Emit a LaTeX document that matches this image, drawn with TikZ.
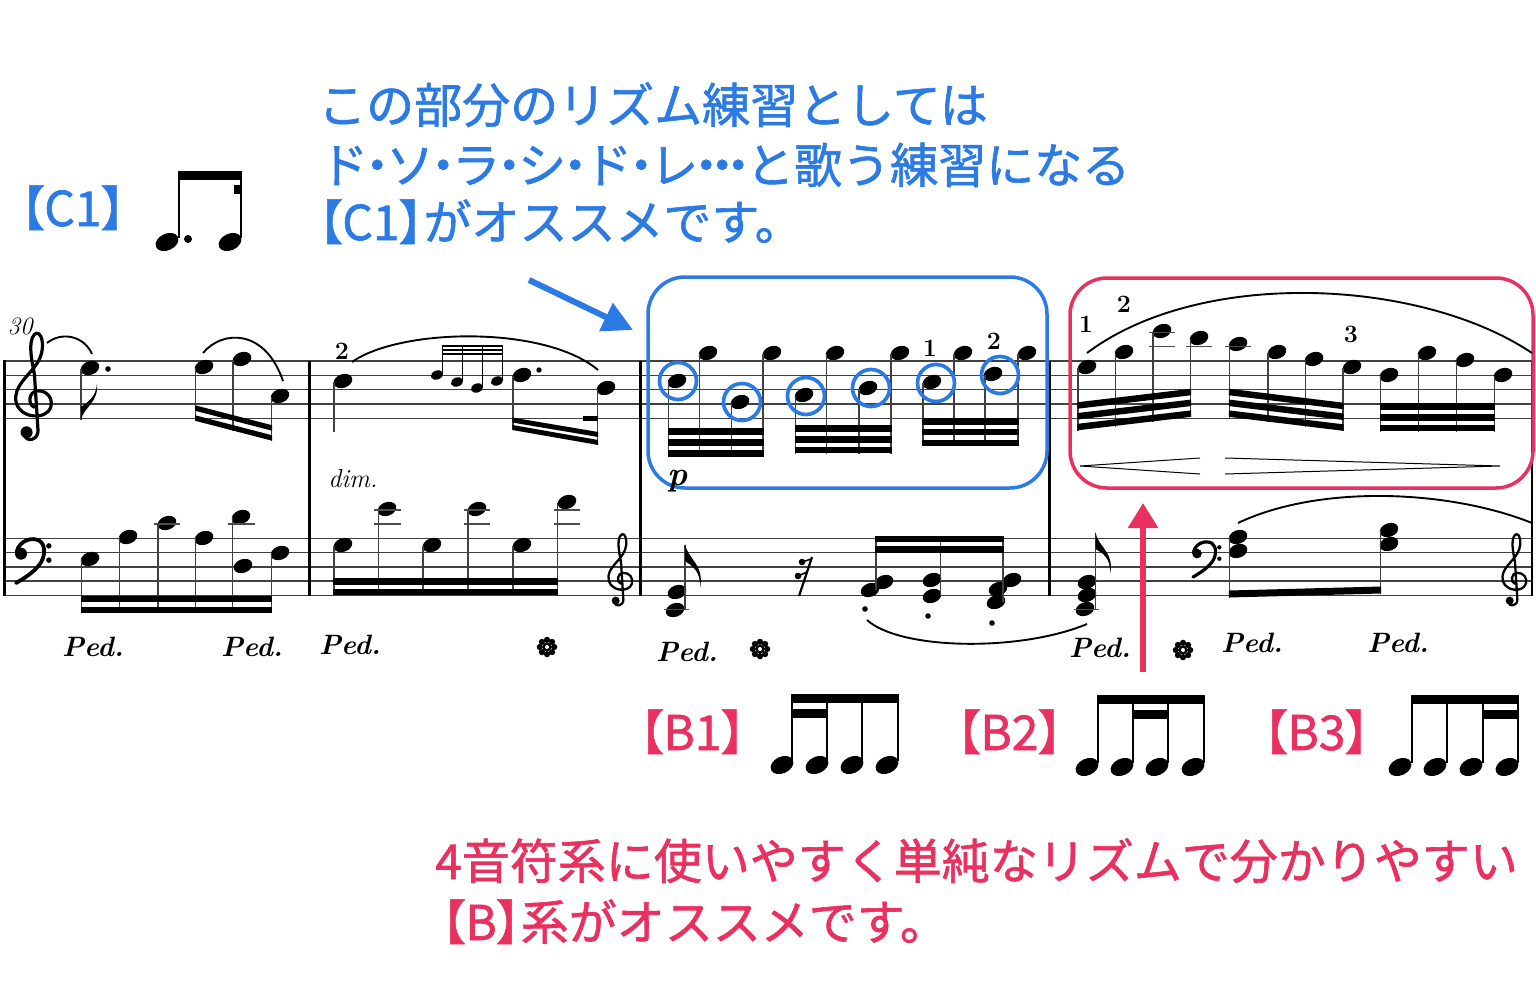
\documentclass[tikz,border=0pt]{standalone}
\usepackage{fontspec}
\newfontfamily\jp{Noto Sans CJK JP}[FakeBold=1.3]
\newfontfamily\jpp{Noto Sans CJK JP}[RawFeature=+palt,FakeBold=1.3]
\usetikzlibrary{arrows.meta}
\definecolor{cblue}{RGB}{44,123,229}
\definecolor{cred}{RGB}{233,49,96}
\newcommand\nhead[2]{\fill[rotate around={20:(#1,#2)}] (#1,#2) ellipse [x radius=9.6, y radius=6.8];}
\newcommand\ghead[2]{\fill[rotate around={20:(#1,#2)}] (#1,#2) ellipse [x radius=6.3, y radius=4.5];}
\newcommand\bhead[2]{\fill[rotate around={25:(#1,#2)}] (#1,#2) ellipse [x radius=12, y radius=8.3];}
\newcommand\mstem[3]{\draw[stemline] (#1,#2) -- (#1,#3);}
\newcommand\fstem[3]{\draw[figstem] (#1,#2) -- (#1,#3);}
\newcommand\mbeam[5]{\fill (#1,{#2-#5/2}) -- (#3,{#4-#5/2}) -- (#3,{#4+#5/2}) -- (#1,{#2+#5/2}) -- cycle;}
\newcommand\mledger[3]{\draw[ledger] (#1,#3) -- (#2,#3);}
\newcommand\jdot{\makebox[18pt][c]{・}}
\newcommand\jell{\makebox[16pt][c]{・}\makebox[16pt][c]{・}\makebox[16pt][c]{・}}
\tikzset{
  pics/gclef/.style={code={
    \begin{scope}[x=14.3pt,y=14.3pt]
      \draw[line width=#1, line cap=round, line join=round]
        (0.1,-0.3) .. controls (-0.4,-0.1) and (-0.3,0.8) .. (0.3,0.85)
        .. controls (1.0,0.9) and (1.4,0.3) .. (1.25,-0.25)
        .. controls (1.1,-0.8) and (0.5,-0.95) .. (0.0,-0.9)
        .. controls (-0.8,-0.8) and (-1.3,-0.2) .. (-1.2,0.5)
        .. controls (-1.1,1.4) and (-0.2,2.0) .. (0.3,2.8)
        .. controls (0.7,3.4) and (0.75,4.2) .. (0.55,4.65)
        .. controls (0.4,5.0) and (0.1,4.95) .. (-0.05,4.55)
        .. controls (-0.3,3.9) and (-0.05,2.8) .. (0.1,2.0)
        -- (0.35,-1.9)
        .. controls (0.4,-2.6) and (-0.5,-2.8) .. (-0.6,-2.2);
      \fill (-0.45,-2.05) circle (0.42);
    \end{scope}
  }},
  pics/fclef/.style={code={
    \begin{scope}[x=14.3pt,y=14.3pt]
      \fill (0,-0.05) circle (0.42);
      \draw[line width=#1, line cap=round]
        (-0.3,0.1) .. controls (-0.1,0.9) and (0.8,1.15) .. (1.3,0.85)
        .. controls (1.75,0.55) and (1.7,-0.3) .. (1.3,-0.8)
        .. controls (0.9,-1.35) and (0.1,-1.85) .. (-0.35,-2.1);
      \fill (1.95,0.5) circle (0.19) (1.95,-0.5) circle (0.19);
    \end{scope}
  }},
  pics/pstar/.style={code={
    \foreach \a in {0,45,...,315} {\fill (\a:7.2) circle (3.1);}
    \fill (0,0) circle (4.6);
    \fill[white] (0,0) circle (2);
  }},
}
\begin{document}
\begin{tikzpicture}[x=1pt,y=-1pt,
  staffline/.style={line width=1.3, black!75},
  stemline/.style={line width=1.4, black!75},
  figstem/.style={line width=2, black},
  ledger/.style={line width=1.3, black!70},
  slur/.style={line width=1.9},
  jptext/.style={font=\jp\fontsize{48}{58}\selectfont, inner sep=0, anchor=base west},
  fing/.style={font=\bfseries\fontsize{25}{25}\selectfont, inner sep=0},
  ped/.style={font=\bfseries\itshape\fontsize{28}{28}\selectfont, inner sep=0},
]
\fill[white] (0,0) rectangle (1536,999);
\useasboundingbox (0,0) rectangle (1536,999);

% ---------- Japanese texts ----------
\node[jptext, text=cblue] (t1) at (318,123) {この部分のリズム練習としては};
\node[jptext, text=cblue] (t2) at (320,183) {ド\jdot ソ\jdot ラ\jdot シ\jdot ド\jdot レ\jell と歌う練習になる};
\node[jptext, text=cblue] (t3) at (318,240) {{\jpp 【C1】}がオススメです。};
\node[jptext, text=cblue] (c1lab) at (20,226) {{\jpp 【C1】}};
\node[jptext, text=cred] (b1lab) at (639,750) {{\jpp 【B1】}};
\node[jptext, text=cred] (b2lab) at (956,750) {{\jpp 【B2】}};
\node[jptext, text=cred] (b3lab) at (1263,750) {{\jpp 【B3】}};
\node[jptext, text=cred] (u1) at (435,879) {4音符系に使いやすく単純なリズムで分かりやすい};
\node[jptext, text=cred] (u2) at (441,940) {{\jpp 【B】}系がオススメです。};

% ---------- rhythm figures ----------
% C1
\bhead{167}{242} \bhead{230}{242}
\fstem{179}{238}{171} \fstem{241}{238}{171}
\mbeam{178}{175.5}{242}{175.5}{9}
\fill (234,185) rectangle (242,194);
\fill (188,239) circle (4);
% B1
\bhead{782}{765} \bhead{817}{765} \bhead{852}{765} \bhead{887}{765}
\fstem{792}{761}{694} \fstem{827}{761}{694} \fstem{862}{761}{694} \fstem{898}{761}{694}
\mbeam{791}{698.5}{899}{698.5}{9} \mbeam{791}{713}{828}{713}{9}
% B2
\bhead{1087}{767} \bhead{1122}{767} \bhead{1157}{767} \bhead{1193}{767}
\fstem{1098}{763}{695} \fstem{1133}{763}{695} \fstem{1168}{763}{695} \fstem{1204}{763}{695}
\mbeam{1097}{699.5}{1205}{699.5}{9} \mbeam{1132}{714}{1169}{714}{9}
% B3
\bhead{1400}{767} \bhead{1435}{767} \bhead{1471}{767} \bhead{1507}{767}
\fstem{1412}{763}{695} \fstem{1447}{763}{695} \fstem{1483}{763}{695} \fstem{1518}{763}{695}
\mbeam{1411}{699.5}{1519}{699.5}{9} \mbeam{1482}{714}{1519}{714}{9}

% ---------- staves ----------
\foreach \i in {0,...,4}{
  \draw[staffline] (5,{361+14.3*\i}) -- (1533,{361+14.3*\i});
  \draw[staffline] (5,{538.5+14.2*\i}) -- (1533,{538.5+14.2*\i});
}
\draw[line width=3.5] (4.5,360.3) -- (4.5,596);
\foreach \x in {309.5,640.5,1049.5,1532}{\draw[line width=2.5] (\x,360.5) -- (\x,595.8);}

% clefs
\pic at (33,403) {gclef=3.2};
\pic at (21,553) {fclef=3.8};
\pic[scale=0.67] at (620,581) {gclef=2.3};
\pic[scale=0.67] at (1514,581) {gclef=2.3};
\pic[scale=0.8] at (1197,553) {fclef=3.2};

\node[font=\itshape\fontsize{25}{25}\selectfont, inner sep=0] (mnum) at (20,326) {30};

% highlight boxes
\draw[cblue, line width=3.5, rounded corners=37] (648,277) rectangle (1047,488);
\draw[cred, line width=3.5, rounded corners=37] (1070,278) rectangle (1533,488);

% ---------- measure 1 ----------
\nhead{90}{368} \mstem{81}{369}{420}
\fill (81,420) .. controls (83,408) and (99,402) .. (97,384) .. controls (96,398) and (86,403) .. (81,407) -- cycle;
\fill (108,369) circle (2.8);
\draw[slur] (47,343) .. controls (62,331) and (84,336) .. (92,354);
\nhead{204}{367} \nhead{242}{359} \nhead{280}{396}
\mstem{195.5}{368}{421} \mstem{233}{360}{431} \mstem{271.5}{397}{441}
\mbeam{195}{408}{272.2}{428}{5.5} \mbeam{195}{418}{272.2}{438}{5.5}
\draw[slur] (203,353) .. controls (222,330) and (265,328) .. (283,381);
% bass
\nhead{90}{559} \nhead{128}{537} \nhead{167}{523} \nhead{204}{538} \nhead{241}{517} \nhead{243}{566} \nhead{280}{553}
\mledger{154}{180}{524} \mledger{228}{255}{524}
\mstem{81.5}{559}{613} \mstem{119.5}{537}{613} \mstem{158}{523}{613} \mstem{195.5}{538}{613} \mstem{232.5}{517}{613} \mstem{271.5}{553}{613}
\mbeam{80.8}{599}{272.2}{599}{6} \mbeam{80.8}{610}{272.2}{610}{6}
\node[ped] (ped1) at (93,647) {Ped.};
\node[ped] (ped2) at (252,647) {Ped.};

% ---------- measure 2 ----------
\node[fing] (f2a) at (342,351) {2};
\nhead{343}{381} \mstem{334}{382}{432}
\draw[slur] (352,362) .. controls (400,328) and (545,325) .. (598,370);
\ghead{437}{375} \ghead{457}{382} \ghead{477}{388} \ghead{497}{381}
\foreach \x/\y in {442.5/375,462.5/382,482.5/388,502.5/381}{\draw[line width=1.1] (\x,\y) -- (\x,345);}
\mbeam{442}{346.2}{503}{346.2}{2.3} \mbeam{442}{350.2}{503}{350.2}{2.3} \mbeam{442}{353.8}{503}{353.8}{2.3}
\nhead{522}{375} \fill (539,370) circle (2.7);
\nhead{606}{388}
\mstem{513}{376}{430} \mstem{597.5}{389}{445}
\mbeam{512.3}{420}{598.2}{434.5}{5} \mbeam{512.3}{427.5}{598.2}{442.5}{5} \mbeam{583}{418.5}{598.2}{418.5}{5}
% bass
\nhead{343}{545} \nhead{387}{509} \nhead{432}{545} \nhead{477}{509} \nhead{522}{545} \nhead{567}{502}
\mledger{374}{401}{524} \mledger{374}{401}{510}
\mledger{464}{490}{524} \mledger{464}{490}{510}
\mledger{554}{580}{524} \mledger{554}{580}{510}
\mstem{334}{546}{596} \mstem{378.5}{510}{596} \mstem{423}{546}{596} \mstem{468}{510}{596} \mstem{513}{546}{596} \mstem{557.5}{503}{596}
\mbeam{333.3}{581.5}{558.2}{581.5}{6.5} \mbeam{333.3}{592}{558.2}{592}{6.5}
\node[font=\itshape\fontsize{26}{26}\selectfont, inner sep=0] (dim) at (353,479) {dim.};
\node[ped] (ped3) at (350,645) {Ped.};
\pic at (547,647) {pstar};

% ---------- measure 3 ----------
\nhead{677}{381} \nhead{708}{353} \nhead{740}{402} \nhead{772}{353}
\mstem{668.5}{382}{457} \mstem{699.5}{354}{457} \mstem{731.5}{403}{457} \mstem{763}{354}{457}
\mbeam{668}{431.7}{764}{431.7}{6.5} \mbeam{668}{442.5}{764}{442.5}{6.5} \mbeam{668}{453.3}{764}{453.3}{6.5}
\nhead{804}{395} \nhead{835}{353} \nhead{868}{388} \nhead{900}{353}
\mstem{795.5}{396}{454} \mstem{826.5}{354}{454} \mstem{859}{389}{454} \mstem{891}{354}{454}
\mbeam{795}{428.5}{892}{428.5}{6.5} \mbeam{795}{439.3}{892}{439.3}{6.5} \mbeam{795}{450.1}{892}{450.1}{6.5}
\nhead{932}{382} \nhead{963}{353} \nhead{993}{374} \nhead{1027}{353}
\mstem{923}{383}{446} \mstem{954}{354}{446} \mstem{985}{375}{446} \mstem{1018}{354}{446}
\mbeam{922}{421.5}{1019}{421.5}{6.5} \mbeam{922}{432.2}{1019}{432.2}{6.5} \mbeam{922}{442.9}{1019}{442.9}{6.5}
\foreach \x/\y in {678/381,742/402,806/396,871/388,936/383,1000/375}{\draw[cblue, line width=3.7] (\x,\y) circle (18.5);}
\node[fing] (f3a) at (930,348) {1};
\node[fing] (f3b) at (994,341) {2};
\node[font=\bfseries\itshape\fontsize{34}{34}\selectfont, inner sep=0] (dynp) at (678,481) {p};
% bass
\nhead{677}{592} \nhead{675}{610}
\mledger{664}{689}{609.6}
\mstem{685}{610}{545}
\fill (685,544) .. controls (687,558) and (705,565) .. (700,588) .. controls (701,571) and (692,566) .. (685,561) -- cycle;
\draw[line width=2.2] (812,557) -- (799,596);
\fill (802,562) circle (3.3) (798,576) circle (3.3);
\draw[line width=1.6] (802,562) -- (811,559) (798,576) -- (807,572);
\nhead{870}{590} \nhead{884}{582}
\nhead{932}{580} \nhead{932}{596}
\nhead{996}{602} \nhead{998}{589} \nhead{1012}{580}
\mstem{876}{590}{536} \mstem{940.5}{596}{536} \mstem{1003}{602}{536}
\mbeam{875.3}{539}{1003.7}{539}{6.5} \mbeam{875.3}{549.5}{1003.7}{549.5}{6.5}
\fill (865,609) circle (2.8) (928,616) circle (2.8) (992,623) circle (2.8);
\draw[slur] (867,620) .. controls (900,650) and (1020,652) .. (1087,624);
\node[ped] (ped4) at (687,652) {Ped.};
\pic at (760,649) {pstar};

% ---------- measure 4 ----------
\nhead{1087}{367} \nhead{1124}{352} \nhead{1162}{331} \nhead{1199}{338}
\mledger{1149}{1175}{346.7} \mledger{1149}{1175}{332.4} \mledger{1186}{1212}{346.7}
\mstem{1078}{368}{431} \mstem{1115.5}{353}{427} \mstem{1153}{332}{422} \mstem{1190.5}{339}{417}
\mbeam{1077.3}{405.5}{1191.2}{392}{6.5} \mbeam{1077.3}{416.3}{1191.2}{402.8}{6.5} \mbeam{1077.3}{427.1}{1191.2}{413.6}{6.5}
\nhead{1238}{344} \nhead{1277}{352} \nhead{1314}{359} \nhead{1352}{367}
\mledger{1225}{1251}{346.7}
\mstem{1229.5}{345}{418} \mstem{1268}{353}{422} \mstem{1305.5}{360}{427} \mstem{1343}{368}{431}
\mbeam{1228.8}{392}{1343.7}{406}{6.5} \mbeam{1228.8}{402.8}{1343.7}{416.8}{6.5} \mbeam{1228.8}{413.6}{1343.7}{427.6}{6.5}
\nhead{1389}{375} \nhead{1427}{353} \nhead{1465}{360} \nhead{1503}{375}
\mstem{1380.5}{376}{432} \mstem{1418.5}{354}{432} \mstem{1456.5}{361}{432} \mstem{1494.5}{376}{432}
\mbeam{1379.8}{406.5}{1495.2}{406.5}{6.5} \mbeam{1379.8}{417.3}{1495.2}{417.3}{6.5} \mbeam{1379.8}{428.1}{1495.2}{428.1}{6.5}
\node[fing] (f4a) at (1086,324) {1};
\node[fing] (f4b) at (1124,304) {2};
\node[fing] (f4c) at (1351,334) {3};
\draw[slur] (1087,353) .. controls (1200,268) and (1420,278) .. (1532,353);
\draw[line width=1] (1200,458) -- (1080,466) -- (1200,474);
\draw[line width=1] (1225,458) -- (1500,466) -- (1225,474);
% bass
\nhead{1087}{582} \nhead{1087}{595} \nhead{1085}{609}
\mledger{1074}{1099}{609.6}
\mstem{1095.5}{609}{533}
\fill (1095.5,532) .. controls (1097,546) and (1115,552) .. (1110,574) .. controls (1111,557) and (1102,553) .. (1095.5,549) -- cycle;
\nhead{1238}{537} \nhead{1238}{551}
\nhead{1389}{530} \nhead{1389}{544}
\mstem{1229.5}{537}{598} \mstem{1380.5}{530}{594}
\mbeam{1228.8}{594}{1381.2}{590}{7}
\draw[slur] (1238,523) .. controls (1320,484) and (1450,490) .. (1532,523);
\node[ped] (ped5) at (1100,648) {Ped.};
\pic at (1183,650) {pstar};
\node[ped] (ped6) at (1252,643) {Ped.};
\node[ped] (ped7) at (1398,643) {Ped.};

% ---------- arrows ----------
\coordinate (ba1) at (529,280); \coordinate (ba2) at (633,330);
\draw[cblue, line width=6, -{Triangle[length=30pt,width=30pt]}] (ba1) -- (ba2);
\coordinate (ra1) at (1143,672); \coordinate (ra2) at (1143,503);
\draw[cred, line width=6, -{Triangle[length=25pt,width=29pt]}] (ra1) -- (ra2);
\end{tikzpicture}
\end{document}
